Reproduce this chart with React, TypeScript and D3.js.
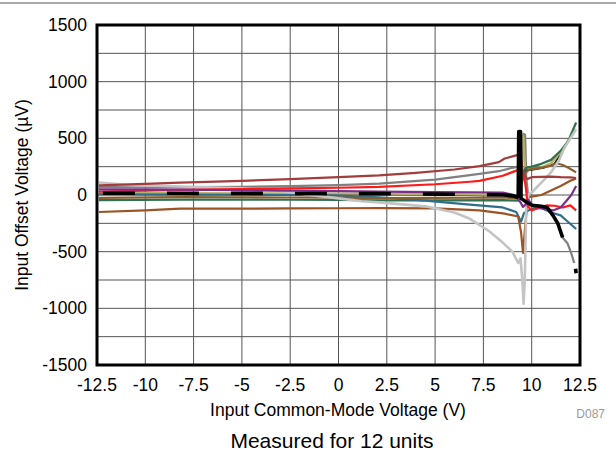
import React from "react";
import * as d3 from "d3";

// Input offset voltage (µV) vs. input common-mode voltage (V), 12 units
type Pt = [number, number];

const xTicks = [-12.5, -10, -7.5, -5, -2.5, 0, 2.5, 5, 7.5, 10, 12.5];
const xTickLabels = ["-12.5", "-10", "-7.5", "-5", "-2.5", "0", "2.5", "5", "7.5", "10", "12.5"];
const yTicks = [1500, 1000, 500, 0, -500, -1000, -1500];
const yTickLabels = ["1500", "1000", "500", "0", "-500", "-1000", "-1500"];

const unitDarkRed: Pt[] = [[-12.4, 85], [-10, 98], [-8.2, 110], [-5, 125], [-2.5, 140], [0, 158], [2.1, 173], [4, 195], [6, 225], [7.3, 255], [8.3, 290], [8.6, 322], [9.2, 350], [9.4, 360], [9.55, 200], [9.75, 140], [10, 157], [10.5, 160], [11, 163], [11.5, 158], [12, 155], [12.3, 150]];
const unitGray: Pt[] = [[-12.4, 72], [-10, 66], [-8.2, 70], [-5, 72], [-2.5, 78], [0, 88], [2.1, 100], [5, 135], [7.3, 186], [8.3, 210], [9, 240], [9.3, 250], [9.5, 255], [9.58, 540], [9.66, 530], [9.72, 150], [9.85, -60], [10, -90], [10.5, -100], [10.8, -110], [11.1, -180], [11.35, -250], [11.6, -375], [11.85, -425], [12.05, -515], [12.2, -600]];
const unitRed: Pt[] = [[-12.4, 30], [-8.2, 45], [-5, 52], [-2.5, 58], [0, 64], [2.1, 72], [5, 95], [6.8, 117], [7.3, 125], [8.5, 170], [9.2, 215], [9.4, 230], [9.55, 180], [9.65, 120], [9.7, 60], [9.8, -100], [10, -136], [10.4, -110], [10.8, -92], [11.2, -95], [11.6, -110], [12, -92], [12.3, -136]];
const unitPurple: Pt[] = [[-12.4, 50], [-8.2, 48], [-5, 42], [-2.5, 38], [0, 34], [2.1, 30], [5, 26], [8.5, 22], [9.2, -5], [9.4, -60], [9.55, -105], [9.7, -80], [9.8, -40], [10.1, -100], [10.6, -120], [11.1, -136], [11.5, -110], [11.8, -50], [12.05, 0], [12.3, 80]];
// black unit: dashed across the range, then solid through the spike and the drop
const unitBlackLow: Pt[] = [[-12.4, 15], [-8.2, 15], [-5, 14], [-2.5, 14], [0, 12], [2.1, 12], [5, 8], [8.5, 2], [9.1, -10], [9.3, -25]];
const unitBlackHigh: Pt[] = [[9.3, -25], [9.33, 560], [9.42, 560], [9.45, -30], [9.7, -60], [10, -90], [10.5, -100], [10.8, -110], [11.1, -180], [11.35, -250], [11.6, -375]];
const unitBlackEnd: Pt[] = [[12.27, -650], [12.3, -690]];
const unitKhaki: Pt[] = [[-12.4, 15], [-8.2, 15], [-5, 14], [-2.5, 14], [0, 12], [2.1, 12], [5, 8], [8.5, 2], [9.1, -5], [9.4, -10], [9.5, 530], [9.56, 520], [9.66, 240], [10, 233], [10.5, 243], [11, 280], [11.4, 360], [11.7, 420], [12, 510], [12.2, 590]];
const unitGreen: Pt[] = [[-12.4, -45], [-8.2, -40], [-5, -40], [-2.5, -42], [0, -44], [2.1, -47], [5, -48], [8.5, -45], [9.3, -50], [9.5, 180], [9.7, 240], [10, 250], [10.5, 275], [11, 310], [11.5, 390], [11.9, 480], [12.3, 640]];
const unitTeal: Pt[] = [[-12.4, 5], [-8.2, 3], [-5, 2], [-2.5, 0], [0, -5], [2.1, -20], [4.5, -50], [6.8, -85], [8.5, -110], [9.2, -150], [9.45, -235], [9.6, -160], [10, -120], [10.5, -115], [11, -155], [11.5, -180], [11.8, -225], [12.3, -300]];
const unitBrownUpper: Pt[] = [[-12.4, -25], [-8.2, -18], [-5, -20], [-2.5, -22], [0, -24], [2.1, -27], [5, -25], [8.5, -22], [9.3, -30], [9.55, 150], [9.75, 210], [10, 233], [10.5, 240], [11, 258], [11.3, 280], [11.6, 265], [11.9, 240], [12.3, 200]];
const unitBrownLower: Pt[] = [[-12.4, -150], [-10, -135], [-8.2, -120], [-5, -120], [-2.5, -118], [0, -117], [2.1, -115], [5, -118], [7.3, -135], [8.6, -165], [9.3, -190], [9.45, -330], [9.55, -510], [9.65, -300], [9.8, -20], [10, -15], [10.5, 0], [11, 40], [11.5, 80], [12, 125], [12.3, 145]];
const unitLightGray: Pt[] = [[-12.4, 110], [-11, 90], [-8.2, 75], [-5, 60], [-3, 35], [-1.5, 0], [0, -30], [1.2, -55], [2.1, -65], [4.5, -100], [6, -155], [6.8, -210], [7.8, -320], [8.5, -420], [9, -500], [9.3, -600], [9.42, -560], [9.52, -760], [9.58, -960], [9.64, -760], [9.72, -100], [9.85, 10], [10, 22], [10.5, 110], [11, 200], [11.4, 300], [11.7, 420], [12, 500], [12.3, 580]];
const unitDark: Pt[] = [[-12.4, 10], [-5, 8], [0, 6], [5, 2], [9, -8], [9.3, -20], [9.5, 180], [9.7, 220], [10, 222], [10.6, 238], [11.16, 275], [11.5, 360], [11.8, 450], [12.15, 555]];

const series: { data: Pt[]; color: string; width: number; dash?: string; offset?: number }[] = [
  { data: unitGray, color: "#808080", width: 2.2 },
  { data: unitDark, color: "#1a1a1a", width: 1.6 },
  { data: unitKhaki, color: "#b5b06b", width: 2.4 },
  { data: unitGreen, color: "#2f7150", width: 2.2 },
  { data: unitTeal, color: "#2f6d8c", width: 2.2 },
  { data: unitBrownUpper, color: "#8a5f2e", width: 2.2 },
  { data: unitBrownLower, color: "#9c5424", width: 2.2 },
  { data: unitLightGray, color: "#c4c4c4", width: 2.6 },
  { data: unitRed, color: "#ff1a1a", width: 2.2 },
  { data: unitDarkRed, color: "#a33c3c", width: 2.2 },
  { data: unitPurple, color: "#7a2f8a", width: 2.2 },
  { data: unitBlackLow, color: "#000000", width: 3.6, dash: "32,32", offset: -4 },
  { data: unitBlackHigh, color: "#000000", width: 3.6 },
  { data: unitBlackEnd, color: "#000000", width: 3.6 },
];

const W = 616;
const H = 456;
const plot = { left: 97, right: 580, top: 25, bottom: 365 };
const FONT = "'Liberation Sans', Arial, sans-serif";
const FS = 17.5;

export default function App() {
  const x = d3.scaleLinear().domain([-12.5, 12.5]).range([plot.left, plot.right]);
  const y = d3.scaleLinear().domain([-1500, 1500]).range([plot.bottom, plot.top]);
  const line = d3
    .line<Pt>()
    .x((d) => x(d[0]))
    .y((d) => y(d[1]))
    .curve(d3.curveLinear);

  const vGrid = d3.range(-12.5, 12.51, 2.5);
  const hGrid = d3.range(-1500, 1501, 250);

  return (
    <svg
      width={W}
      height={H}
      style={{ position: "absolute", left: 0, top: 0, background: "#fff" }}
      fontFamily={FONT}
    >
      <rect x={0} y={0} width={W} height={H} fill="#fff" />
      <line x1={0} x2={W} y1={3} y2={3} stroke="#8c8c8c" strokeWidth={1.5} />

      <defs>
        <clipPath id="plotClip">
          <rect x={plot.left} y={plot.top} width={plot.right - plot.left} height={plot.bottom - plot.top} />
        </clipPath>
      </defs>

      {vGrid.map((v) => (
        <line key={"v" + v} x1={x(v)} x2={x(v)} y1={plot.top} y2={plot.bottom} stroke="#555" strokeWidth={1} />
      ))}
      {hGrid.map((v) => (
        <line key={"h" + v} x1={plot.left} x2={plot.right} y1={y(v)} y2={y(v)} stroke="#555" strokeWidth={1} />
      ))}

      <g clipPath="url(#plotClip)" fill="none" strokeLinejoin="round" strokeLinecap="butt">
        {series.map((s, i) => (
          <path
            key={i}
            d={line(s.data) || ""}
            stroke={s.color}
            strokeWidth={s.width}
            strokeDasharray={s.dash}
            strokeDashoffset={s.offset}
          />
        ))}
      </g>

      <rect
        x={plot.left}
        y={plot.top}
        width={plot.right - plot.left}
        height={plot.bottom - plot.top}
        fill="none"
        stroke="#000"
        strokeWidth={3}
      />

      {yTicks.map((v, i) => (
        <text key={"yt" + v} x={plot.left - 10} y={y(v)} dy="0.35em" textAnchor="end" fontSize={FS} fill="#000">
          {yTickLabels[i]}
        </text>
      ))}
      {xTicks.map((v, i) => (
        <text key={"xt" + v} x={x(v)} y={plot.bottom + 20} dy="0.35em" textAnchor="middle" fontSize={FS} fill="#000">
          {xTickLabels[i]}
        </text>
      ))}

      <text x={338} y={410} dy="0.35em" textAnchor="middle" fontSize={FS} fill="#000">
        Input Common-Mode Voltage (V)
      </text>
      <text
        transform={`translate(22, ${(plot.top + plot.bottom) / 2}) rotate(-90)`}
        textAnchor="middle"
        dy="0.35em"
        fontSize={FS}
        fill="#000"
      >
        Input Offset Voltage (µV)
      </text>
      <text x={605} y={414} dy="0.35em" textAnchor="end" fontSize={12} fill="#9a9a9a">
        D087
      </text>
      <text x={332} y={441} dy="0.35em" textAnchor="middle" fontSize={21} fill="#000">
        Measured for 12 units
      </text>
    </svg>
  );
}
